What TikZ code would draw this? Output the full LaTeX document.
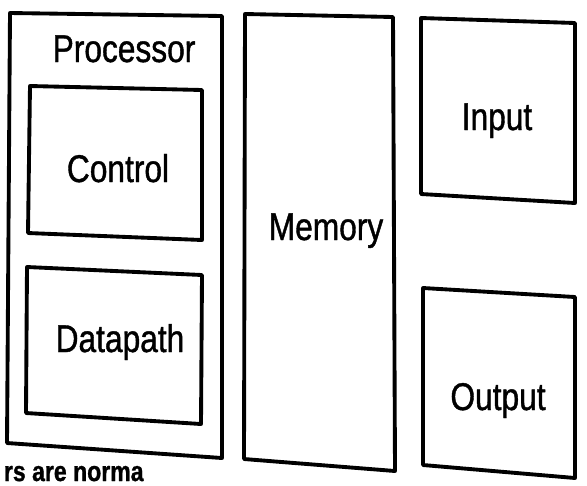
\documentclass[tikz,border=0pt]{standalone}
\usepackage{fontspec}
\setmainfont[FakeStretch=0.82, FakeBold=1]{Liberation Sans}

\begin{document}
\begin{tikzpicture}[x=0.02cm, y=-0.02cm, line width=2.2pt, line join=round,
    lbl/.style={anchor=base, font=\fontsize{22}{26}\selectfont}]
  \useasboundingbox (0,0) rectangle (587,485);
  % Processor with its two parts
  \draw (10,13) -- (222,16) -- (222,458) -- (7,443) -- cycle;
  \node[lbl] (proc) at (124,62) {Processor};

  \draw (30,86) -- (202,90) -- (202,240) -- (28,233) -- cycle;
  \node[lbl] (ctrl) at (118,182) {Control};

  \draw (27,267) -- (202,275) -- (201,424) -- (26,413) -- cycle;
  \node[lbl] (dpath) at (120,352) {Datapath};

  % Memory
  \draw (245,14) -- (393,17) -- (395,471) -- (244,459) -- cycle;
  \node[lbl] (mem) at (326,240) {Memory};

  % Input and output
  \draw (421,18) -- (575,23) -- (575,203) -- (421,194) -- cycle;
  \node[lbl] (inp) at (497,130) {Input};

  \draw (423,288) -- (575,297) -- (575,478) -- (423,465) -- cycle;
  \node[lbl] (outp) at (498,410) {Output};

  % line of text below
  \node[anchor=base west, inner sep=0pt, font=\fontsize{16}{19}\selectfont\bfseries] (cut) at (2,481) {rs are norma};
\end{tikzpicture}
\end{document}
